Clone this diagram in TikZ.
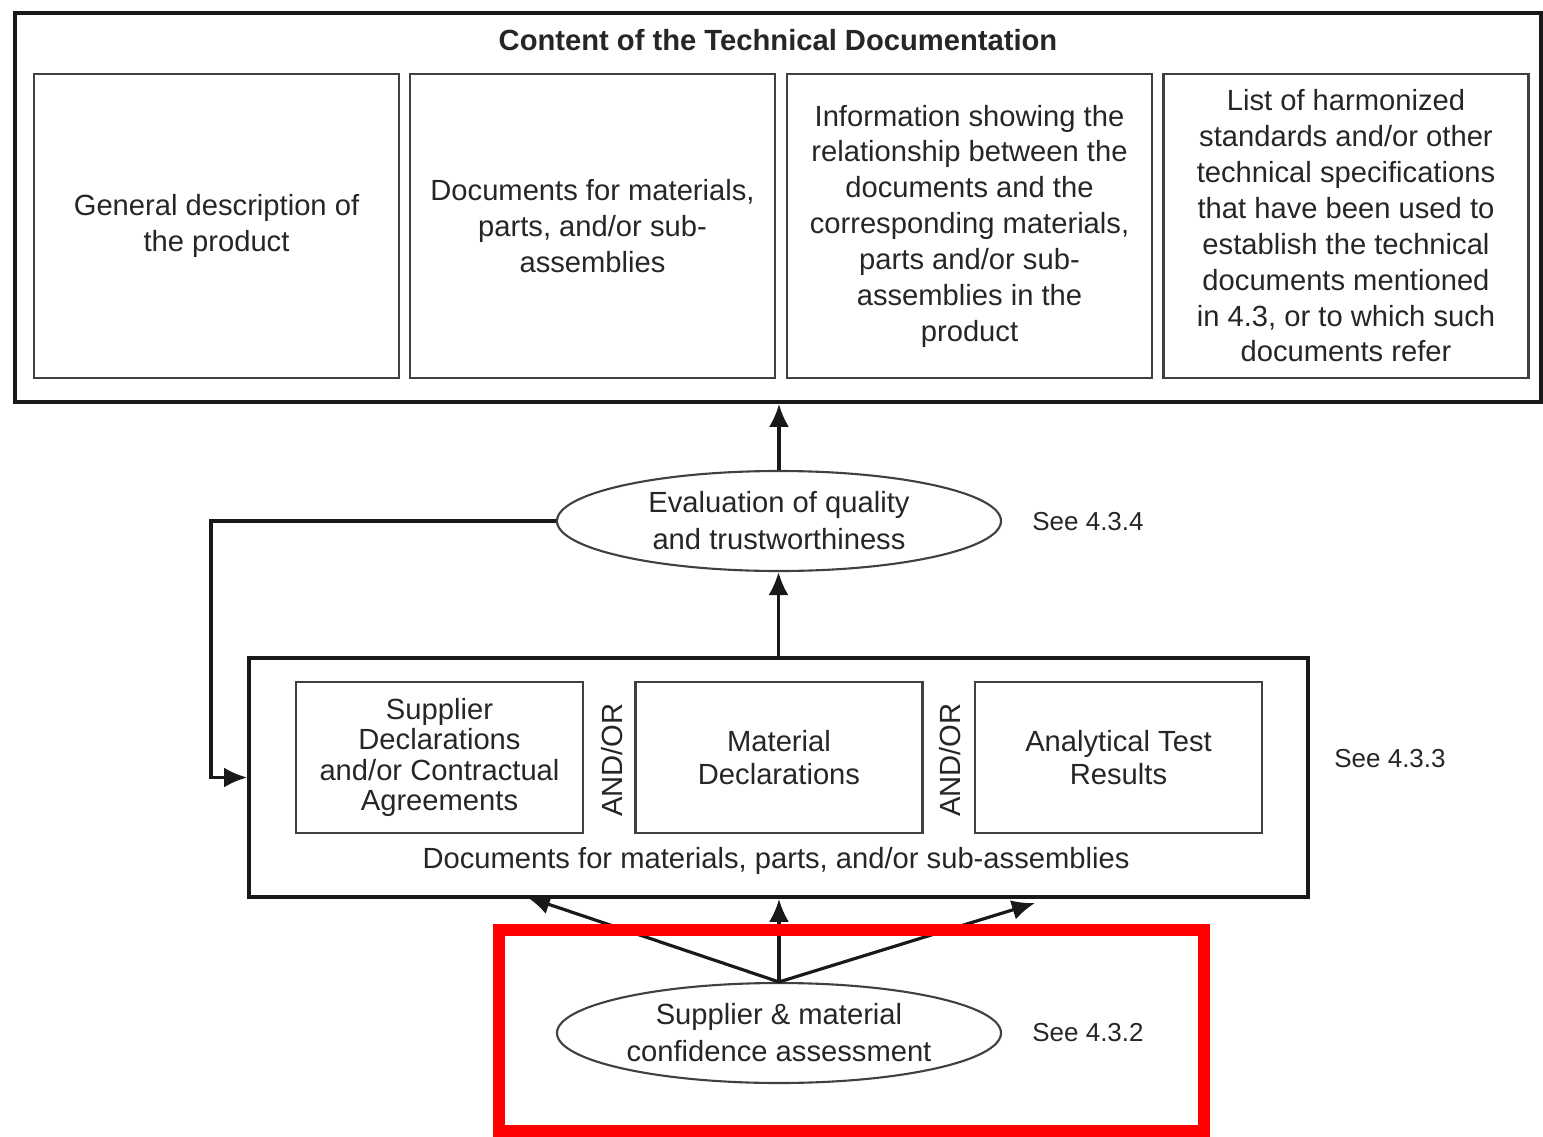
\documentclass[tikz,border=0pt]{standalone}
\usepackage{fontspec}
\setmainfont{Liberation Sans}
\usetikzlibrary{arrows.meta,shapes.geometric}
\definecolor{MarkRed}{HTML}{FF0000}
\tikzset{
   every node/.style={font=\fontsize{8.3}{10.2}\selectfont,text=black!85},
   bigbox/.style={draw=black!90,line width=1.1pt,inner sep=0pt},
   partbox/.style={draw=black!75,line width=0.6pt,inner sep=0pt,align=center,
      minimum width=3.65cm,minimum height=3.04cm},
   subbox/.style={draw=black!75,line width=0.6pt,inner sep=0pt,align=center,
      minimum width=2.87cm,minimum height=1.51cm},
   oval/.style={ellipse,draw=black!75,line width=0.6pt,inner sep=0pt,align=center,
      minimum width=4.44cm,minimum height=1.0cm,font=\fontsize{8.3}{10.5}\selectfont},
   seeref/.style={font=\fontsize{7.4}{9}\selectfont},
   flow/.style={-{Latex[length=0.23cm,width=0.2cm]},line width=0.9pt,black!90}
}

\begin{document}
\begin{tikzpicture}
   \useasboundingbox (0,0) rectangle (15.43,-11.37);

   % technical documentation
   \node[bigbox,minimum width=15.26cm,minimum height=3.89cm] (tcd) at (7.78,-2.075) {};
   \node[font=\fontsize{8.3}{10.2}\selectfont\bfseries] (title) at (7.78,-0.40) {Content of the Technical Documentation};
   \node[partbox] (gen) at (2.165,-2.26) {General description of\\the product};
   \node[partbox] (mdocs) at (5.925,-2.26) {Documents for materials,\\parts, and/or sub-\\assemblies};
   \node[partbox] (info) at (9.695,-2.26) {Information showing the\\relationship between the\\documents and the\\corresponding materials,\\parts and/or sub-\\assemblies in the\\product};
   \node[partbox] (hstd) at (13.46,-2.26) {List of harmonized\\standards and/or other\\technical specifications\\that have been used to\\establish the technical\\documents mentioned\\in 4.3, or to which such\\documents refer};

   % evaluation
   \node[oval] (evalq) at (7.79,-5.21) {Evaluation of quality\\and trustworthiness};
   \node[seeref] (see434) at (10.88,-5.22) {See 4.3.4};

   % documents for materials
   \node[bigbox,minimum width=10.59cm,minimum height=2.39cm] (docs) at (7.785,-7.775) {};
   \node[subbox,font=\fontsize{8.3}{8.6}\selectfont] (supp) at (4.395,-7.575) {Supplier\\Declarations\\and/or Contractual\\Agreements};
   \node[subbox,font=\fontsize{8.3}{9.4}\selectfont] (mat) at (7.79,-7.575) {Material\\Declarations};
   \node[subbox,font=\fontsize{8.3}{9.4}\selectfont] (ana) at (11.185,-7.575) {Analytical Test\\Results};
   \node[rotate=90] (andor1) at (6.12,-7.60) {AND/OR};
   \node[rotate=90] (andor2) at (9.50,-7.60) {AND/OR};
   \node (docslabel) at (7.76,-8.61) {Documents for materials, parts, and/or sub-assemblies};
   \node[seeref] (see433) at (13.90,-7.59) {See 4.3.3};

   % confidence assessment
   \node[oval] (conf) at (7.79,-10.33) {Supplier \& material\\confidence assessment};
   \node[seeref] (see432) at (10.88,-10.33) {See 4.3.2};

   \coordinate (loop) at (2.11,-5.21);
   \coordinate (tipl) at (5.27,-8.97);
   \coordinate (tipr) at (10.35,-9.03);

   \draw[flow] (evalq.north) -- (evalq.north |- tcd.south);
   \draw[flow] (docs.north) -- (docs.north |- evalq.south);
   \draw[flow] (evalq.west) -- (loop) |- (docs.west);
   \draw[flow] (conf.north) -- (tipl);
   \draw[flow] (conf.north) -- (conf.north |- docs.south);
   \draw[flow] (conf.north) -- (tipr);

   \draw[MarkRed,line width=0.12cm] (4.99,-9.30) rectangle (12.04,-11.31);
\end{tikzpicture}
\end{document}
